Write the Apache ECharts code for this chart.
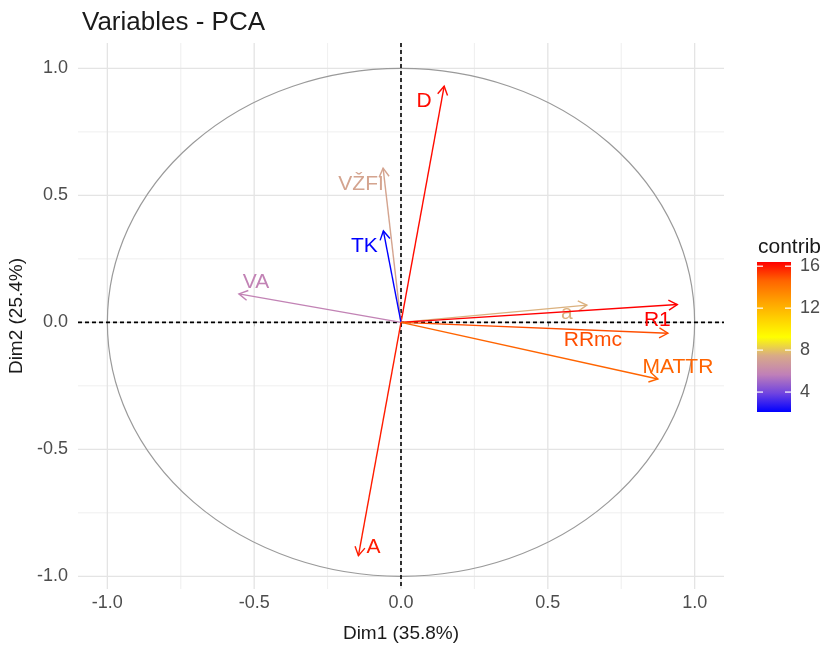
<!DOCTYPE html>
<html>
<head>
<meta charset="utf-8">
<script src="https://cdn.jsdelivr.net/npm/echarts@6/dist/echarts.min.js"></script>
<style>
  html, body { margin: 0; padding: 0; background: #ffffff; }
  #chart { width: 824px; height: 651px; }
</style>
</head>
<body>
<div id="chart"></div>
<script>
// Variable coordinates on the first two principal dimensions
const varNames = ['D', 'VŽFI', 'TK', 'VA', 'a', 'R1', 'RRmc', 'MATTR', 'A'];
const dim1 = [0.147, -0.061, -0.060, -0.552, 0.633, 0.941, 0.909, 0.875, -0.145];
const dim2 = [0.930, 0.607, 0.360, 0.112, 0.068, 0.070, -0.043, -0.223, -0.919];
// Contribution of each variable to Dim1-2 (%)
const contrib = [16.2, 7.2, 2.1, 5.8, 7.6, 16.4, 15.0, 14.6, 15.9];

// Axis breaks
const axisBreaks = [-1.0, -0.5, 0.0, 0.5, 1.0];
const minorBreaks = [-0.75, -0.25, 0.25, 0.75];
const legendBreaks = [4, 8, 12, 16];

// Colour ramp blue -> yellow -> red
const rampColors = ['#0000ff', '#7044e0', '#c080b8', '#d8aa88', '#ffff00',
                    '#ffcf00', '#ff9c00', '#ff6400', '#ff0000'];

// Where each variable's name sits relative to its arrow tip (px)
const labelNudge = {
  'D': [-20, 15], 'VŽFI': [-22, 16], 'TK': [-19, 15], 'VA': [17, -12],
  'a': [-20, 8], 'R1': [-20, 16], 'RRmc': [-75, 7], 'MATTR': [20, -12], 'A': [15, -9]
};

const cMin = Math.min(...contrib);
const cMax = Math.max(...contrib);
const arrowData = varNames.map((n, i) => [dim1[i], dim2[i], contrib[i], n]);

const FONT = '"Liberation Sans", Arial, sans-serif';

const chart = echarts.init(document.getElementById('chart'), null, { renderer: 'canvas' });

function panelLines(params, api) {
  const cs = params.coordSys;
  const children = [];
  const addV = (v, w, col, dash) => {
    const p = api.coord([v, 0]);
    children.push({ type: 'line', shape: { x1: p[0], y1: cs.y, x2: p[0], y2: cs.y + cs.height },
      style: { stroke: col, lineWidth: w, lineDash: dash || null } });
  };
  const addH = (v, w, col, dash) => {
    const p = api.coord([0, v]);
    children.push({ type: 'line', shape: { x1: cs.x, y1: p[1], x2: cs.x + cs.width, y2: p[1] },
      style: { stroke: col, lineWidth: w, lineDash: dash || null } });
  };
  minorBreaks.forEach(b => { addV(b, 0.9, '#ededed'); addH(b, 0.9, '#ededed'); });
  axisBreaks.forEach(b => { addV(b, 1.3, '#e4e4e4'); addH(b, 1.3, '#e4e4e4'); });
  // unit circle
  const c = api.coord([0, 0]);
  const r = api.size([1, 1]);
  const rx = r[0], ry = r[1];
  children.push({ type: 'path', shape: {
      pathData: `M ${c[0] - rx} ${c[1]} A ${rx} ${ry} 0 1 0 ${c[0] + rx} ${c[1]} A ${rx} ${ry} 0 1 0 ${c[0] - rx} ${c[1]} Z` },
    style: { fill: 'none', stroke: '#9a9a9a', lineWidth: 1.2 } });
  // dashed reference lines through the origin
  addV(0, 1.6, '#000000', [4, 3]);
  addH(0, 1.6, '#000000', [4, 3]);
  return { type: 'group', children };
}

function arrowItem(params, api) {
  const o = api.coord([0, 0]);
  const t = api.coord([api.value(0), api.value(1)]);
  const color = api.visual('color');
  const name = varNames[params.dataIndex];
  const ang = Math.atan2(t[1] - o[1], t[0] - o[0]);
  const hl = 10, ha = Math.PI / 6;
  const h1 = [t[0] - hl * Math.cos(ang - ha), t[1] - hl * Math.sin(ang - ha)];
  const h2 = [t[0] - hl * Math.cos(ang + ha), t[1] - hl * Math.sin(ang + ha)];
  const nd = labelNudge[name] || [0, 0];
  return {
    type: 'group',
    children: [
      { type: 'line', shape: { x1: o[0], y1: o[1], x2: t[0], y2: t[1] },
        style: { stroke: color, lineWidth: 1.4 } },
      { type: 'polyline', shape: { points: [h1, t, h2] },
        style: { stroke: color, lineWidth: 1.4, fill: 'none' } },
      { type: 'text', x: t[0] + nd[0], y: t[1] + nd[1],
        style: { text: name, fill: color, font: `21px ${FONT}`, align: 'center', verticalAlign: 'middle' } }
    ]
  };
}

function colourBar(params, api) {
  const top = api.coord([0, cMax]);
  const bot = api.coord([1, cMin]);
  const stops = rampColors.map((c, i) => ({ offset: 1 - i / (rampColors.length - 1), color: c }));
  const children = [{
    type: 'rect',
    shape: { x: top[0], y: top[1], width: bot[0] - top[0], height: bot[1] - top[1] },
    style: { fill: new echarts.graphic.LinearGradient(0, 0, 0, 1, stops.slice().reverse()) }
  }];
  legendBreaks.forEach(b => {
    const p = api.coord([0, b]);
    children.push({ type: 'line', shape: { x1: top[0], y1: p[1], x2: top[0] + 6, y2: p[1] },
      style: { stroke: '#ffffff', lineWidth: 1.2 } });
    children.push({ type: 'line', shape: { x1: bot[0] - 6, y1: p[1], x2: bot[0], y2: p[1] },
      style: { stroke: '#ffffff', lineWidth: 1.2 } });
  });
  return { type: 'group', children };
}

const tickLabelStyle = { color: '#4d4d4d', fontSize: 18, fontFamily: FONT };

chart.setOption({
  backgroundColor: '#ffffff',
  animation: false,
  title: [
    { text: 'Variables - PCA', left: 77, top: 5,
      textStyle: { color: '#1a1a1a', fontSize: 26, fontWeight: 'normal', fontFamily: FONT } },
    { text: 'contrib', left: 753, top: 232,
      textStyle: { color: '#1a1a1a', fontSize: 21, fontWeight: 'normal', fontFamily: FONT } }
  ],
  grid: [
    { left: 78, top: 43, width: 646, height: 546, outerBoundsMode: 'none', containLabel: false },
    { left: 757, top: 262, width: 34, height: 150, outerBoundsMode: 'none', containLabel: false }
  ],
  xAxis: [
    { gridIndex: 0, type: 'value', min: -1.1, max: 1.1,
      name: 'Dim1 (35.8%)', nameLocation: 'middle', nameGap: 35,
      nameTextStyle: { color: '#1a1a1a', fontSize: 19, fontFamily: FONT },
      axisLine: { show: false }, splitLine: { show: false },
      axisTick: { show: true, length: 4, lineStyle: { color: '#333333' }, customValues: axisBreaks },
      axisLabel: { ...tickLabelStyle, margin: 5, customValues: axisBreaks,
        formatter: v => v.toFixed(1) } },
    { gridIndex: 1, type: 'value', min: 0, max: 1, show: false }
  ],
  yAxis: [
    { gridIndex: 0, type: 'value', min: -1.05, max: 1.1,
      name: 'Dim2 (25.4%)', nameLocation: 'middle', nameGap: 45, nameRotate: 90,
      nameTextStyle: { color: '#1a1a1a', fontSize: 19, fontFamily: FONT },
      axisLine: { show: false }, splitLine: { show: false },
      axisTick: { show: true, length: 4, lineStyle: { color: '#333333' }, customValues: axisBreaks },
      axisLabel: { ...tickLabelStyle, margin: 10, customValues: axisBreaks,
        formatter: v => v.toFixed(1) } },
    { gridIndex: 1, type: 'value', min: cMin, max: cMax, position: 'right',
      axisLine: { show: false }, splitLine: { show: false }, axisTick: { show: false },
      axisLabel: { color: '#4d4d4d', fontSize: 18, fontFamily: FONT, margin: 9,
        customValues: legendBreaks } }
  ],
  visualMap: {
    show: false, type: 'continuous', min: cMin, max: cMax, dimension: 2,
    seriesIndex: 1, inRange: { color: rampColors }
  },
  series: [
    { type: 'custom', xAxisIndex: 0, yAxisIndex: 0, renderItem: panelLines,
      data: [[0, 0]], silent: true, z: 1 },
    { type: 'custom', xAxisIndex: 0, yAxisIndex: 0, renderItem: arrowItem,
      data: arrowData, encode: { x: 0, y: 1 }, z: 3 },
    { type: 'custom', xAxisIndex: 1, yAxisIndex: 1, renderItem: colourBar,
      data: [[0, cMin]], silent: true, z: 2 }
  ]
});
</script>
</body>
</html>
